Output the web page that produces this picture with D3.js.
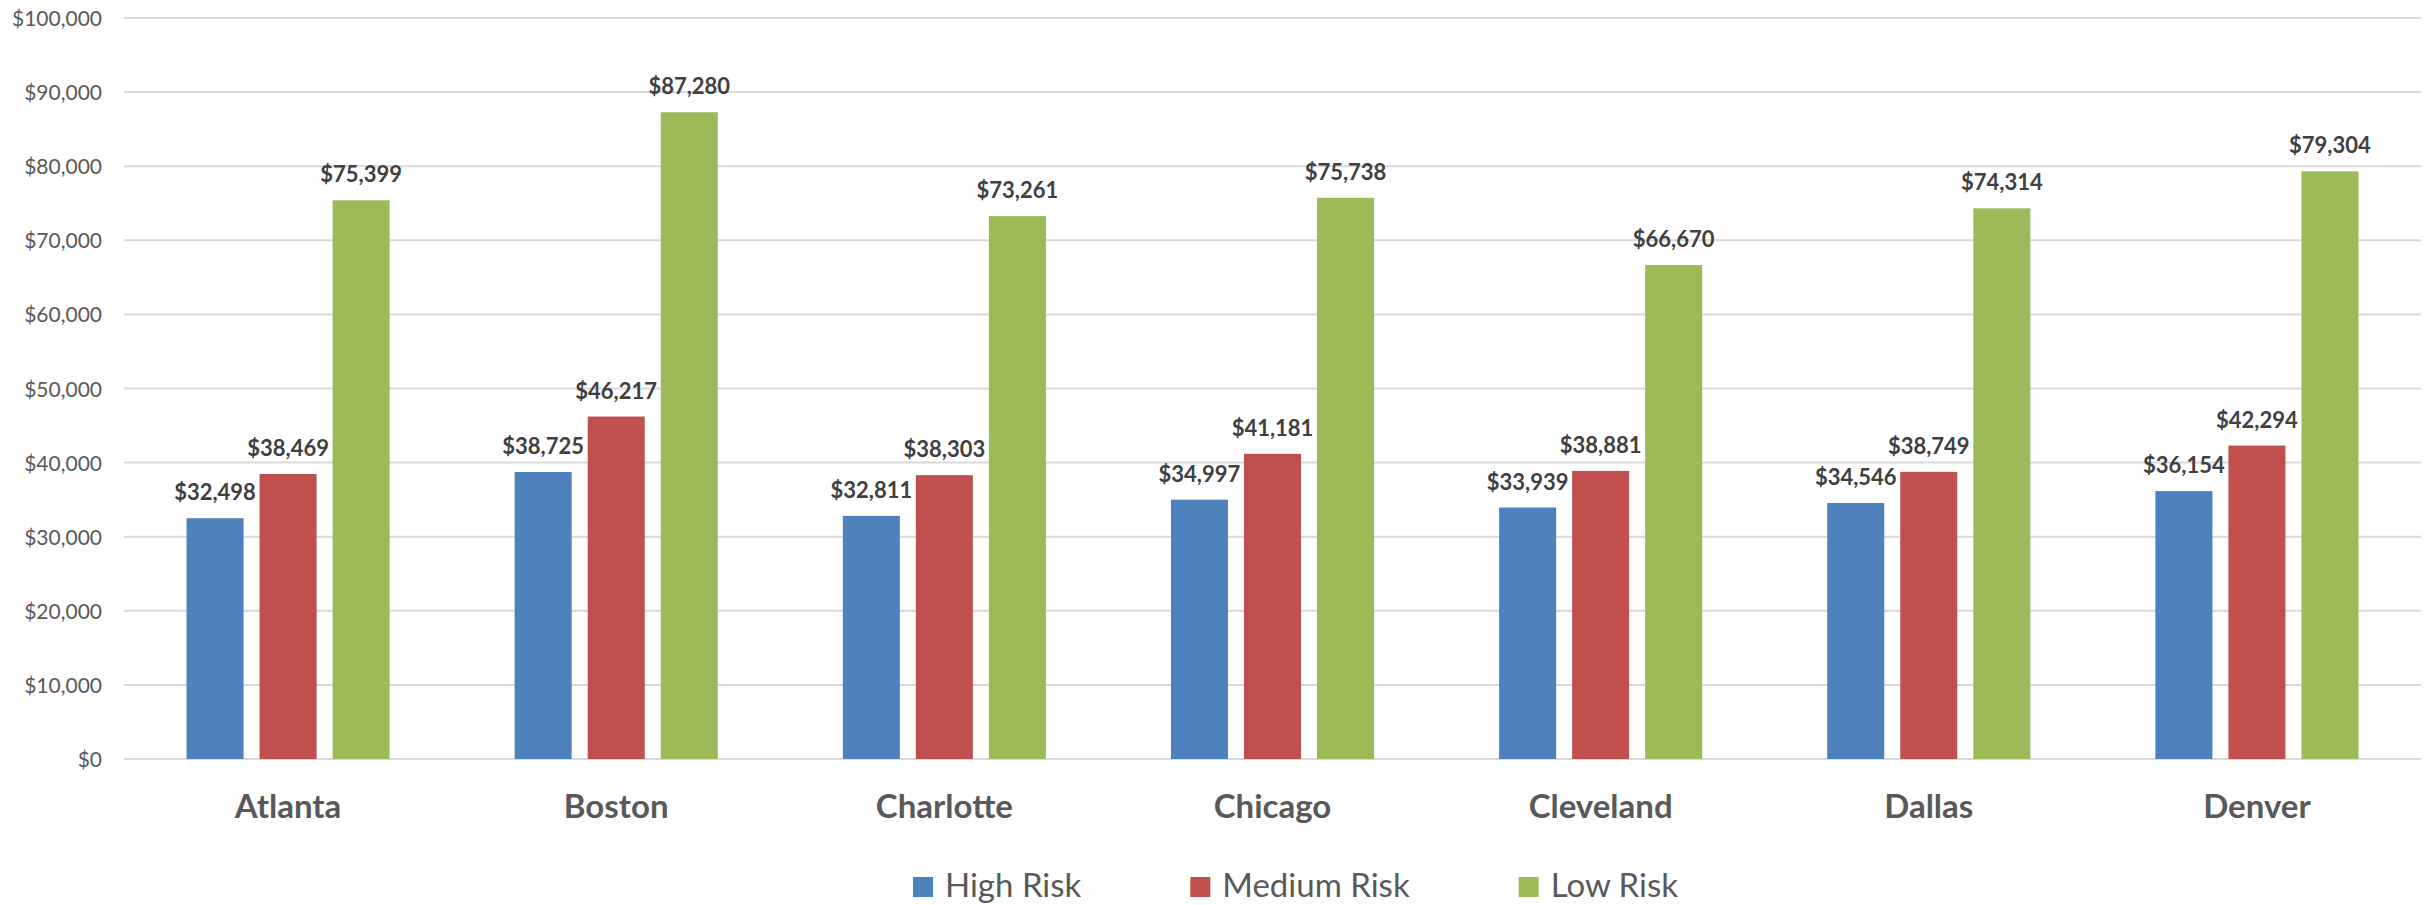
<!DOCTYPE html>
<html>
<head>
<meta charset="utf-8">
<script src="https://cdn.jsdelivr.net/npm/d3@7"></script>
<style>
  html, body { margin: 0; padding: 0; background: #ffffff; }
  svg { display: block; }
</style>
</head>
<body>
<svg id="chart" width="2433" height="905"></svg>
<script>
// ---- Data ----
const categories = ["Atlanta", "Boston", "Charlotte", "Chicago", "Cleveland", "Dallas", "Denver"];
const seriesNames = ["High Risk", "Medium Risk", "Low Risk"];
const highRisk   = [32498, 38725, 32811, 34997, 33939, 34546, 36154];
const mediumRisk = [38469, 46217, 38303, 41181, 38881, 38749, 42294];
const lowRisk    = [75399, 87280, 73261, 75738, 66670, 74314, 79304];
const yTicks = [0, 10000, 20000, 30000, 40000, 50000, 60000, 70000, 80000, 90000, 100000];
const colors = ["#4F81BD", "#C0504D", "#9BBB59"];

const seriesValues = [highRisk, mediumRisk, lowRisk];
const rows = [];
categories.forEach((c, i) => {
  seriesNames.forEach((s, j) => rows.push({ cat: c, series: s, value: seriesValues[j][i], color: colors[j] }));
});

// ---- Layout ----
const plot = { left: 124, right: 2421, top: 18, bottom: 759 };
const font = "Lato, 'Open Sans', sans-serif";

const svg = d3.select("#chart");

const x = d3.scaleBand().domain(categories).range([plot.left, plot.right]).paddingInner(0).paddingOuter(0);
const groupW = x.bandwidth() * 0.619;
const xs = d3.scaleBand().domain(seriesNames).range([0, groupW]).paddingInner(0.219).paddingOuter(0);
const y = d3.scaleLinear().domain([0, 100000]).range([plot.bottom, plot.top]);

const fmt = v => "$" + d3.format(",")(v);

// gridlines
svg.append("g").selectAll("line").data(yTicks).join("line")
  .attr("x1", plot.left).attr("x2", plot.right)
  .attr("y1", d => y(d)).attr("y2", d => y(d))
  .attr("stroke", "#D9D9D9").attr("stroke-width", 2);

// y axis labels
const yAxis = d3.axisLeft(y).tickValues(yTicks).tickFormat(fmt).tickSize(0).tickPadding(0);
const yg = svg.append("g").attr("transform", `translate(${plot.left - 22},0)`).call(yAxis);
yg.select(".domain").remove();
yg.selectAll("text")
  .attr("font-family", font).attr("font-size", 21).attr("fill", "#595959")
  .attr("dy", "0.36em");

// bars
svg.append("g").selectAll("rect").data(rows).join("rect")
  .attr("x", d => x(d.cat) + x.bandwidth() / 2 - groupW / 2 + xs(d.series))
  .attr("width", xs.bandwidth())
  .attr("y", d => y(d.value))
  .attr("height", d => y(0) - y(d.value))
  .attr("fill", d => d.color);

// value labels
svg.append("g").selectAll("text").data(rows).join("text")
  .attr("x", d => x(d.cat) + x.bandwidth() / 2 - groupW / 2 + xs(d.series) + xs.bandwidth() / 2)
  .attr("y", d => y(d.value) - 18)
  .attr("text-anchor", "middle")
  .attr("font-family", font).attr("font-weight", "bold").attr("font-size", 22)
  .attr("fill", "#404040")
  .text(d => fmt(d.value));

// category labels
const xAxis = d3.axisBottom(x).tickSize(0).tickPadding(0);
const xg = svg.append("g").attr("transform", `translate(0,${plot.bottom})`).call(xAxis);
xg.select(".domain").remove();
xg.selectAll("text")
  .attr("font-family", font).attr("font-weight", "bold").attr("font-size", 33)
  .attr("fill", "#595959").attr("dy", null).attr("y", 59);

// legend
const legend = svg.append("g");
const items = legend.selectAll("g").data(seriesNames).join("g");
items.append("rect").attr("width", 20).attr("height", 20).attr("y", 877)
  .attr("fill", (d, i) => colors[i]);
items.append("text").attr("x", 32).attr("y", 897)
  .attr("font-family", font).attr("font-size", 33).attr("fill", "#595959")
  .text(d => d);
let cx = 0;
const offsets = [];
items.each(function () {
  const tw = d3.select(this).select("text").node().getComputedTextLength();
  offsets.push(cx);
  cx += 32 + tw + 109;
});
const totalW = cx - 109;
const startX = 1295.5 - totalW / 2;
items.attr("transform", (d, i) => `translate(${startX + offsets[i]},0)`);
</script>
</body>
</html>
